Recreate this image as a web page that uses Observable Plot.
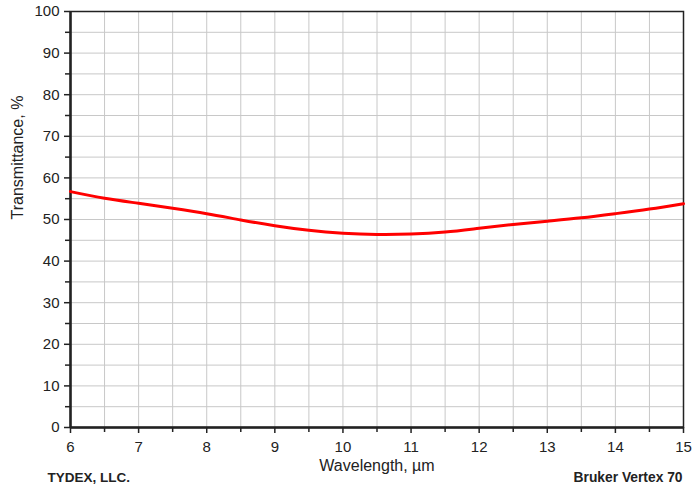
<!DOCTYPE html>
<html><head><meta charset="utf-8">
<script src="https://cdn.jsdelivr.net/npm/d3@7"></script>
<script src="https://cdn.jsdelivr.net/npm/@observablehq/plot@0.6"></script>
<style>body{margin:0;background:#fff;font-family:"Liberation Sans",Arial,sans-serif;}</style>
</head><body><div id="chart"></div>
<script>
const wavelength = [6, 6.5, 7, 7.5, 8, 8.5, 9, 9.5, 10, 10.5, 11, 11.5, 12, 12.5, 13, 13.5, 14, 14.5, 15];
const transmittance = [56.7, 55.1, 53.9, 52.7, 51.4, 49.9, 48.5, 47.4, 46.7, 46.4, 46.5, 47.0, 47.9, 48.8, 49.6, 50.4, 51.4, 52.5, 53.8];
const xMajor = [6, 7, 8, 9, 10, 11, 12, 13, 14, 15];
const xMinor = [6.5, 7.5, 8.5, 9.5, 10.5, 11.5, 12.5, 13.5, 14.5];
const yMajor = [0, 10, 20, 30, 40, 50, 60, 70, 80, 90, 100];
const yMinor = [5, 15, 25, 35, 45, 55, 65, 75, 85, 95];
const xGrid = xMajor.concat(xMinor);
const yGrid = yMajor.concat(yMinor);
const data = wavelength.map((w, i) => ({w, t: transmittance[i]}));

const chart = Plot.plot({
  width: 692, height: 492,
  marginLeft: 70, marginRight: 9, marginTop: 11, marginBottom: 65,
  style: {fontFamily: '"Liberation Sans", Arial, sans-serif', fontSize: "14px", color: "#222", background: "#fff"},
  x: {domain: [6, 15]},
  y: {domain: [0, 100]},
  marks: [
    Plot.gridX(xGrid, {stroke: "#c8c8c8", strokeOpacity: 1, strokeWidth: 1}),
    Plot.gridY(yGrid, {stroke: "#c8c8c8", strokeOpacity: 1, strokeWidth: 1}),
    Plot.frame({stroke: "#222", strokeWidth: 1.5}),
    Plot.ruleX([6], {stroke: "#222", strokeWidth: 2.5}),
    Plot.ruleY([0], {stroke: "#222", strokeWidth: 2.5}),
    Plot.axisX(xMajor, {tickSize: 6, tickPadding: 8, fontSize: 15, label: null, stroke: "#222", strokeWidth: 1.5}),
    Plot.axisX(xMinor, {tickSize: 5, tickFormat: () => "", label: null, stroke: "#222", strokeWidth: 1.5}),
    Plot.axisY(yMajor, {tickSize: 6, tickPadding: 5, fontSize: 15, label: null, stroke: "#222", strokeWidth: 1.5}),
    Plot.axisY(yMinor, {tickSize: 5, tickFormat: () => "", label: null, stroke: "#222", strokeWidth: 1.5}),
    Plot.line(data, {x: "w", y: "t", stroke: "#ff0000", strokeWidth: 3, curve: "natural"}),
    Plot.text(["Wavelength, \u00b5m"], {frameAnchor: "bottom", dy: 43, fontSize: 16, fill: "#222"}),
    Plot.text(["Transmittance, %"], {frameAnchor: "left", dx: -53, rotate: -90, fontSize: 16, fill: "#222"}),
    Plot.text(["TYDEX, LLC."], {frameAnchor: "bottom-left", dx: -23, dy: 54, textAnchor: "start", fontSize: 13.5, fontWeight: "bold", fill: "#222"}),
    Plot.text(["Bruker Vertex 70"], {frameAnchor: "bottom-right", dx: -1, dy: 54, textAnchor: "end", fontSize: 13.8, fontWeight: "bold", fill: "#222"})
  ]
});
document.getElementById("chart").appendChild(chart);
</script></body></html>
